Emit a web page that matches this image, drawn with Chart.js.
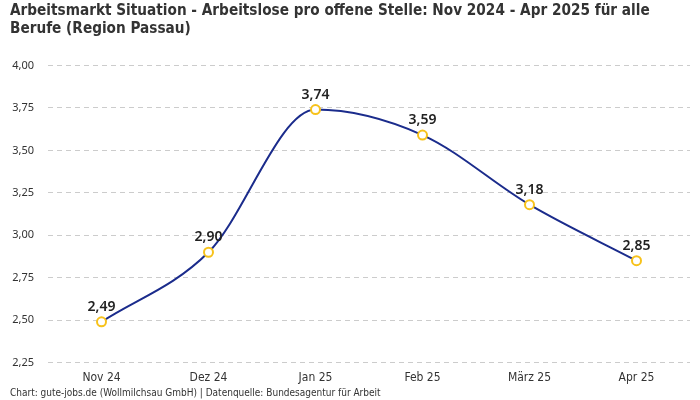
<!DOCTYPE html>
<html>
<head>
<meta charset="utf-8">
<script src="https://cdn.jsdelivr.net/npm/chart.js@4"></script>
<style>
  html, body { margin: 0; padding: 0; background: #fff; }
  #wrap { width: 700px; height: 400px; }
</style>
</head>
<body>
<div id="wrap"><canvas id="chart"></canvas></div>
<script>
const months = ['Nov 24', 'Dez 24', 'Jan 25', 'Feb 25', 'März 25', 'Apr 25'];
const ratio = [2.49, 2.90, 3.74, 3.59, 3.18, 2.85];
const yTicks = [2.25, 2.50, 2.75, 3.00, 3.25, 3.50, 3.75, 4.00];

const narrow = "'Liberation Sans Narrow', 'DejaVu Sans Condensed', sans-serif";
const fmt = v => v.toFixed(2).replace('.', ',');

// labels above each point
const pointLabels = {
    id: 'pointLabels',
    afterDatasetsDraw(chart) {
        const ctx = chart.ctx;
        const meta = chart.getDatasetMeta(0);
        ctx.save();
        ctx.font = "600 14px 'Noto Sans', sans-serif";
        ctx.fillStyle = '#222';
        ctx.textAlign = 'center';
        ctx.textBaseline = 'bottom';
        meta.data.forEach((pt, i) => {
            ctx.fillText(fmt(ratio[i]), pt.x, pt.y - 8);
        });
        ctx.restore();
    }
};

new Chart(document.getElementById('chart'), {
    type: 'line',
    data: {
        labels: months,
        datasets: [{
            data: ratio,
            borderColor: '#1b2c8c',
            borderWidth: 2,
            cubicInterpolationMode: 'monotone',
            pointBackgroundColor: '#fff',
            pointBorderColor: '#f7c21b',
            pointBorderWidth: 2,
            pointRadius: 4.5
        }]
    },
    options: {
        responsive: true,
        maintainAspectRatio: false,
        animation: false,
        layout: { padding: { left: 10, right: 10, top: 0, bottom: 0 } },
        plugins: {
            legend: { display: false },
            tooltip: { enabled: false },
            title: {
                display: true,
                text: ['Arbeitsmarkt Situation - Arbeitslose pro offene Stelle: Nov 2024 - Apr 2025 für alle', 'Berufe (Region Passau)'],
                align: 'start',
                color: '#333',
                font: { family: narrow, size: 15.2, weight: 'bold', lineHeight: 1.2 },
                padding: { top: 2, bottom: 27 }
            },
            subtitle: {
                display: true,
                position: 'bottom',
                align: 'start',
                text: 'Chart: gute-jobs.de (Wollmilchsau GmbH) | Datenquelle: Bundesagentur für Arbeit',
                color: '#333',
                font: { family: narrow, size: 10 },
                padding: { top: 2, bottom: 1 }
            }
        },
        scales: {
            x: {
                offset: true,
                grid: { display: false },
                border: { display: false },
                ticks: { color: '#333', font: { family: narrow, size: 12 }, padding: 0 }
            },
            y: {
                min: 2.25,
                max: 4.00,
                afterBuildTicks: axis => { axis.ticks = yTicks.map(v => ({ value: v })); },
                afterFit: axis => { axis.width = 38; },
                grid: { color: '#ccc', tickLength: 0 },
                border: { display: false, dash: [5, 4] },
                ticks: {
                    color: '#333',
                    font: { family: "'Noto Sans', sans-serif", size: 11 },
                    padding: 14,
                    callback: v => fmt(v)
                }
            }
        }
    },
    plugins: [pointLabels]
});
</script>
</body>
</html>
